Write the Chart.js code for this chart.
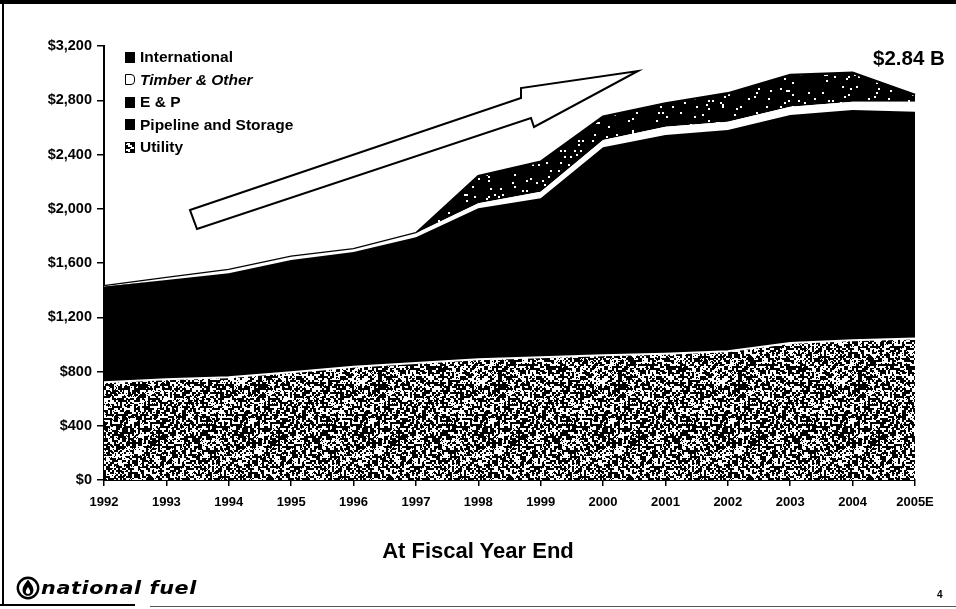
<!DOCTYPE html>
<html>
<head>
<meta charset="utf-8">
<script src="https://cdn.jsdelivr.net/npm/chart.js@4.4.1/dist/chart.umd.min.js"></script>
<style>
  html, body { margin: 0; padding: 0; background: #fff; }
  #page { position: relative; width: 956px; height: 609px; overflow: hidden; background: #fff;
          font-family: "Liberation Sans", Arial, sans-serif; color: #000; }
  #chart { position: absolute; left: 0; top: 0; }
  .row { position: absolute; left: 125px; height: 18px; display: flex; align-items: center;
         font-weight: bold; font-size: 15.5px; white-space: nowrap; }
  .sw { width: 10px; height: 11px; margin-right: 5px; box-sizing: border-box; flex: none; }
  .txt { position: absolute; font-weight: bold; white-space: nowrap; }
  .frame { position: absolute; background: #000; }
</style>
</head>
<body>
<div id="page">
  <canvas id="chart" width="956" height="609"></canvas>
  <div id="legend"></div>
  <div class="txt" id="total" style="left:873px; top:46px; font-size:20.5px;"></div>
  <div class="txt" id="caption" style="left:0; width:956px; top:538px; font-size:22px; text-align:center;"></div>
  <svg style="position:absolute; left:16px; top:576px;" width="24" height="24" viewBox="0 0 24 24">
    <circle cx="12" cy="12" r="10.2" fill="#fff" stroke="#000" stroke-width="2.4"/>
    <path d="M12 3.6 C 9 8, 6.6 10.5, 6.6 14.2 C 6.6 17.6, 9 19.8, 12 19.8 C 15 19.8, 17.4 17.6, 17.4 14.2 C 17.4 10.5, 15 8, 12 3.6 Z" fill="#000"/>
    <path d="M12 11 C 10.6 13.2, 9.8 14.4, 9.8 15.8 C 9.8 17.2, 10.8 18, 12 18 C 13.2 18, 14.2 17.2, 14.2 15.8 C 14.2 14.4, 13.4 13.2, 12 11 Z" fill="#fff"/>
  </svg>
  <div class="txt" id="brand" style="left:41px; top:578px; font-family:'DejaVu Sans',sans-serif; font-size:17px; font-style:italic; font-weight:900; letter-spacing:0.5px; transform:scaleX(1.22); transform-origin:left center;">national fuel</div>
  <div class="txt" style="left:937px; top:589px; font-size:10px;">4</div>
  <div class="frame" style="left:0; top:0; width:956px; height:4px;"></div>
  <div class="frame" style="left:2px; top:0; width:2px; height:606px;"></div>
  <div class="frame" style="left:0; top:604px; width:135px; height:2px;"></div>
  <div class="frame" style="left:150px; top:606px; width:806px; height:1px; background:#555;"></div>
</div>
<script>
// Fiscal years shown on the horizontal axis
const years = ['1992', '1993', '1994', '1995', '1996', '1997', '1998', '1999',
               '2000', '2001', '2002', '2003', '2004', '2005E'];

// Segment assets, $ millions, stacked bottom to top
const utility       = [720, 742, 758, 795, 835, 862, 890, 905, 920, 930, 950, 1010, 1030, 1043];
const pipeline      = [480, 500, 520, 560, 570, 580, 600, 610, 620, 630, 640, 700, 700, 690];
const exploration   = [225, 233, 246, 267, 276, 347, 513, 562, 913, 984, 990, 981, 998, 983];
const timber        = [3, 15, 24, 24, 20, 30, 37, 49, 54, 61, 62, 61, 61, 73];
const international = [0, 0, 0, 0, 0, 0, 201, 221, 172, 172, 209, 234, 214, 51];

// Value axis ticks
const yTicks = [0, 400, 800, 1200, 1600, 2000, 2400, 2800, 3200];

const totalLabel = '$2.84 B';
const captionText = 'At Fiscal Year End';

// Speckled fills, built from a fixed integer hash so the texture is the same every load
function hash(i, seed) {
  let h = (i * 374761393 + seed * 668265263) | 0;
  h = (h ^ (h >>> 13)) * 1274126177 | 0;
  h = h ^ (h >>> 16);
  return (h >>> 0) / 4294967295;
}
function speckle(size, darkShare, seed, dot) {
  const c = document.createElement('canvas');
  c.width = c.height = size;
  const g = c.getContext('2d');
  g.fillStyle = '#fff';
  g.fillRect(0, 0, size, size);
  g.fillStyle = '#000';
  const n = size / dot;
  for (let y = 0; y < n; y++) {
    for (let x = 0; x < n; x++) {
      if (hash(y * n + x, seed) < darkShare) g.fillRect(x * dot, y * dot, dot, dot);
    }
  }
  return c;
}
// Coarser grain: 2px cells with a sprinkling of single black pixels
function grain(size, seed) {
  const c = speckle(size, 0.5, seed, 2);
  const g = c.getContext('2d');
  g.fillStyle = '#000';
  for (let y = 0; y < size; y++) {
    for (let x = 0; x < size; x++) {
      if (hash(y * size + x, seed + 11) < 0.12) g.fillRect(x, y, 1, 1);
    }
  }
  return c;
}
const ctxMain = document.getElementById('chart').getContext('2d');
const grainTile = grain(120, 7);
const specksTile = speckle(120, 0.955, 3, 2);
const grainFill = ctxMain.createPattern(grainTile, 'repeat');
const specksFill = ctxMain.createPattern(specksTile, 'repeat');

const series = [
  { label: 'Utility', data: utility, fill: 'origin', backgroundColor: grainFill, borderColor: '#fff', borderWidth: 2 },
  { label: 'Pipeline and Storage', data: pipeline, fill: '-1', backgroundColor: '#000', borderColor: '#000', borderWidth: 2 },
  { label: 'E & P', data: exploration, fill: '-1', backgroundColor: '#000', borderColor: '#000', borderWidth: 0 },
  { label: 'Timber & Other', data: timber, fill: '-1', backgroundColor: '#fff', borderColor: '#fff', borderWidth: 0 },
  { label: 'International', data: international, fill: '-1', backgroundColor: specksFill, borderColor: '#000', borderWidth: 2.5 }
];

// Hollow arrow drawn over the empty upper-left of the plot
const arrowPlugin = {
  id: 'growthArrow',
  afterDraw(chart) {
    const g = chart.ctx;
    g.save();
    g.beginPath();
    g.moveTo(190, 210);
    g.lineTo(521, 98);
    g.lineTo(521, 88);
    g.lineTo(638, 71);
    g.lineTo(534, 127);
    g.lineTo(531, 118);
    g.lineTo(197, 229);
    g.closePath();
    g.fillStyle = '#fff';
    g.fill();
    g.lineWidth = 2;
    g.strokeStyle = '#000';
    g.lineJoin = 'miter';
    g.stroke();
    g.restore();
  }
};

const tickFont = { family: '"Liberation Sans", Arial, sans-serif', weight: 'bold' };

new Chart(ctxMain, {
  type: 'line',
  data: {
    labels: years,
    datasets: series.map(s => Object.assign({ pointRadius: 0, tension: 0 }, s))
  },
  options: {
    responsive: false,
    animation: false,
    layout: { padding: { top: 46, right: 41, left: 0, bottom: 0 } },
    plugins: { legend: { display: false }, tooltip: { enabled: false } },
    scales: {
      x: {
        offset: false,
        grid: { drawOnChartArea: false, drawTicks: true, tickLength: 6, color: '#000', lineWidth: 1.5 },
        border: { display: true, color: '#000', width: 2 },
        ticks: { color: '#000', font: Object.assign({ size: 13 }, tickFont), padding: 9, maxRotation: 0, autoSkip: false },
        afterFit(scale) { scale.height = 129; }
      },
      y: {
        stacked: true,
        min: 0,
        max: 3200,
        afterBuildTicks(scale) { scale.ticks = yTicks.map(v => ({ value: v })); },
        grid: { drawOnChartArea: false, drawTicks: true, tickLength: 7, color: '#000', lineWidth: 1.5 },
        border: { display: true, color: '#000', width: 2 },
        ticks: {
          color: '#000',
          font: Object.assign({ size: 14.5 }, tickFont),
          padding: 5,
          callback: v => '$' + Number(v).toLocaleString('en-US')
        },
        afterFit(scale) { scale.width = 104; }
      }
    }
  },
  plugins: [arrowPlugin]
});

// Legend, top of the stack listed first
const swatches = {
  'International': 'background:#000;',
  'Timber & Other': 'background:#fff;border:1.5px solid #000;border-radius:0 4px 4px 0;',
  'E & P': 'background:#000;',
  'Pipeline and Storage': 'background:#000;',
  'Utility': 'border:1.5px solid #000;background:url(' + grainTile.toDataURL() + ');'
};
const legendRows = series.slice().reverse();
const legend = document.getElementById('legend');
legendRows.forEach((s, i) => {
  const row = document.createElement('div');
  row.className = 'row';
  row.style.top = (48 + i * 22.5) + 'px';
  const sw = document.createElement('span');
  sw.className = 'sw';
  sw.setAttribute('style', swatches[s.label]);
  const t = document.createElement('span');
  t.textContent = s.label;
  if (s.label === 'Timber & Other') t.style.fontStyle = 'italic';
  row.appendChild(sw);
  row.appendChild(t);
  legend.appendChild(row);
});

document.getElementById('total').textContent = totalLabel;
document.getElementById('caption').textContent = captionText;
</script>
</body>
</html>
